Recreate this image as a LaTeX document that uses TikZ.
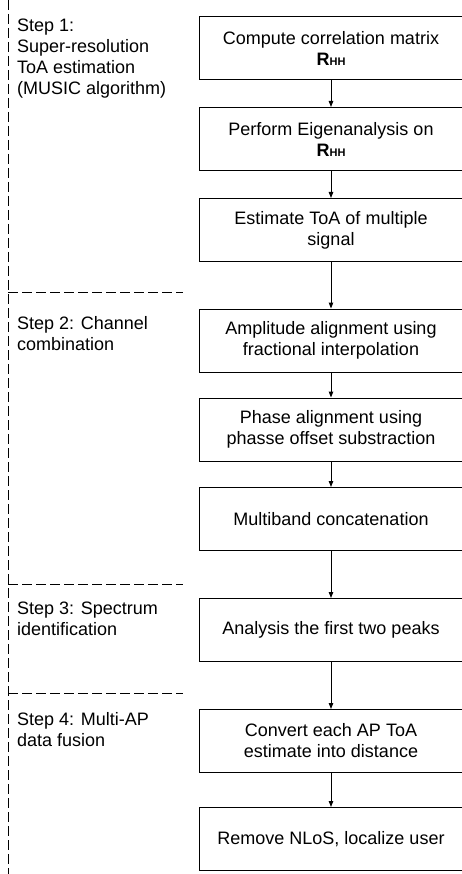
\documentclass[tikz,border=0pt]{standalone}
\usepackage{fontspec}
\setmainfont{Liberation Sans}
\usetikzlibrary{arrows.meta}

\tikzset{
  stepbox/.style={draw, line width=1pt, minimum width=264pt, minimum height=63pt,
    align=center, inner sep=2pt, font=\fontsize{18}{21}\selectfont},
  steplabel/.style={anchor=north west, inner sep=0pt, align=left,
    font=\fontsize{18}{21}\selectfont},
  flow/.style={-{Triangle[length=6pt,width=4.5pt]}, line width=1pt},
  sepline/.style={dash pattern=on 10pt off 4pt, line width=1pt}
}
\newcommand{\Rhh}{\textbf{R{\fontsize{11}{11}\selectfont HH}}}

\begin{document}
\begin{tikzpicture}[x=1pt, y=-1pt]
  \useasboundingbox (0,0) rectangle (461,874);
  % Trennlinien
  \draw[sepline] (8,0) -- (8,874);
  \draw[sepline] (8,292) -- (183,292);
  \draw[sepline] (8,584) -- (183,584);
  \draw[sepline] (8,693) -- (183,693);
  % Schritte
  \node[steplabel] (s1) at (17,19) {Step 1:\\Super-resolution\\ToA estimation\\(MUSIC algorithm)};
  \node[steplabel] (s2) at (17,316) {Step 2: Channel\\combination};
  \node[steplabel] (s3) at (17,602) {Step 3: Spectrum\\identification};
  \node[steplabel] (s4) at (17,712) {Step 4: Multi-AP\\data fusion};
  % Kaesten
  \node[stepbox] (b1) at (331,48) {Compute correlation matrix\\\Rhh};
  \node[stepbox] (b2) at (331,139) {Perform Eigenanalysis on\\\Rhh};
  \node[stepbox] (b3) at (331,230) {Estimate ToA of multiple\\signal};
  \node[stepbox] (b4) at (331,340.5) {Amplitude alignment using\\fractional interpolation};
  \node[stepbox] (b5) at (331,429.5) {Phase alignment using\\phasse offset substraction};
  \node[stepbox] (b6) at (331,519) {Multiband concatenation};
  \node[stepbox] (b7) at (331,630) {Analysis the first two peaks};
  \node[stepbox] (b8) at (331,741) {Convert each AP ToA\\estimate into distance};
  \node[stepbox] (b9) at (331,839) {Remove NLoS, localize user};
  % Pfeile
  \draw[flow] (b1) -- (b2);
  \draw[flow] (b2) -- (b3);
  \draw[flow] (b3) -- (b4);
  \draw[flow] (b4) -- (b5);
  \draw[flow] (b5) -- (b6);
  \draw[flow] (b6) -- (b7);
  \draw[flow] (b7) -- (b8);
  \draw[flow] (b8) -- (b9);
\end{tikzpicture}
\end{document}
